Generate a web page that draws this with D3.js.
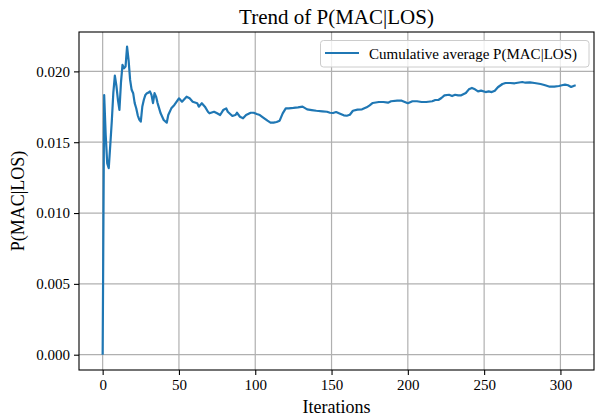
<!DOCTYPE html>
<html>
<head>
<meta charset="utf-8">
<script src="https://cdn.jsdelivr.net/npm/d3@7"></script>
<style>
  html, body { margin: 0; padding: 0; background: #fff; }
  svg { display: block; font-family: "Liberation Serif", "Times New Roman", serif; }
</style>
</head>
<body>
<svg id="chart" width="595" height="419"></svg>
<script>
// ---- data ----
const iterations = [0,1,2,3,4,5,6,7,8,9,10,11,12,13,14,15,16,17,18,19,20,21,22,23,24,25,26,27,28,29,30,31,32,33,34,35,36,38,40,42,43,45,47,50,52,55,57,59,62,63,65,67,69,70,73,75,77,79,81,82,85,87,88,90,92,94,97,99,101,103,105,108,110,112,114,116,118,120,122,125,128,131,134,137,140,144,147,149,151,153,156,158,160,162,164,167,170,173,175,177,181,184,187,189,193,196,198,200,203,206,209,212,216,218,220,222,224,227,229,231,233,235,238,240,242,244,246,248,251,253,255,257,259,262,264,267,270,272,275,277,280,283,287,290,293,296,299,301,303,305,307,309,310];
const pMacLos = [0,0.01833,0.0155,0.0135,0.01317,0.0148,0.0165,0.0185,0.0197,0.0190,0.0180,0.01728,0.0192,0.02046,0.02022,0.02034,0.02175,0.0208,0.0194,0.0187,0.01846,0.01776,0.01740,0.01690,0.01660,0.01646,0.01752,0.0180,0.01834,0.01846,0.0185,0.01858,0.01834,0.01776,0.01846,0.01822,0.01776,0.01704,0.01657,0.01638,0.01692,0.01739,0.01763,0.0181,0.01786,0.01821,0.0181,0.01786,0.01775,0.01751,0.01775,0.01751,0.01715,0.01704,0.01715,0.01704,0.01692,0.01727,0.01739,0.01715,0.01685,0.01692,0.01708,0.0168,0.01669,0.01692,0.01708,0.01708,0.01699,0.01692,0.01676,0.01652,0.01638,0.01638,0.01643,0.01652,0.01704,0.01739,0.01739,0.01742,0.01746,0.01751,0.01732,0.01727,0.01722,0.01718,0.01715,0.01708,0.01706,0.01713,0.01699,0.0169,0.01687,0.01694,0.01722,0.0173,0.01732,0.01746,0.0176,0.01777,0.01784,0.01784,0.01779,0.01789,0.01793,0.01793,0.01784,0.01775,0.01789,0.01789,0.01784,0.01784,0.01789,0.01798,0.01798,0.01812,0.01831,0.01835,0.01826,0.01835,0.01831,0.01831,0.01847,0.01873,0.01883,0.01873,0.01859,0.01864,0.01854,0.01859,0.01854,0.01864,0.01888,0.01911,0.01918,0.01918,0.01916,0.0192,0.01925,0.0192,0.01923,0.01918,0.01911,0.01902,0.01892,0.01892,0.01897,0.01902,0.01906,0.01902,0.0189,0.01899,0.01902];
const xTicks = [0, 50, 100, 150, 200, 250, 300];
const yTicks = [0, 0.005, 0.010, 0.015, 0.020];
const titleText = "Trend of P(MAC|LOS)";
const xLabel = "Iterations";
const yLabel = "P(MAC|LOS)";
const legendLabel = "Cumulative average P(MAC|LOS)";

// ---- layout ----
const svg = d3.select("#chart");
const m = { left: 79, right: 594, top: 32, bottom: 370 };
const x = d3.scaleLinear().domain([-15.5, 322]).range([m.left, m.right]);
const y = d3.scaleLinear().domain([-0.00108, 0.02278]).range([m.bottom, m.top]);
const color = "#1f77b4";
const font = '"Liberation Serif", "Times New Roman", serif';

// grid
const grid = svg.append("g");
grid.selectAll("line.gx").data(xTicks).join("line")
  .attr("x1", d => x(d)).attr("x2", d => x(d))
  .attr("y1", m.top).attr("y2", m.bottom)
  .attr("stroke", "#b0b0b0").attr("stroke-width", 1.2);
grid.selectAll("line.gy").data(yTicks).join("line")
  .attr("x1", m.left).attr("x2", m.right)
  .attr("y1", d => y(d)).attr("y2", d => y(d))
  .attr("stroke", "#b0b0b0").attr("stroke-width", 1.2);

// line
const pts = iterations.map((it, i) => [it, pMacLos[i]]);
svg.append("path")
  .datum(pts)
  .attr("fill", "none")
  .attr("stroke", color)
  .attr("stroke-width", 2.2)
  .attr("stroke-linejoin", "round")
  .attr("stroke-linecap", "butt")
  .attr("d", d3.line().x(d => x(d[0])).y(d => y(d[1])));

// axes
const xAxis = svg.append("g").attr("transform", `translate(0,${m.bottom})`)
  .call(d3.axisBottom(x).tickValues(xTicks).tickSize(5).tickPadding(4).tickFormat(d3.format("d")));
const yAxis = svg.append("g").attr("transform", `translate(${m.left},0)`)
  .call(d3.axisLeft(y).tickValues(yTicks).tickSize(5).tickPadding(4).tickFormat(d3.format(".3f")));
[xAxis, yAxis].forEach(a => {
  a.select(".domain").remove();
  a.selectAll(".tick line").attr("stroke", "#000").attr("stroke-width", 1.1);
  a.selectAll(".tick text").attr("font-family", font).attr("font-size", 15).attr("fill", "#000");
});

// frame
svg.append("rect")
  .attr("x", m.left).attr("y", m.top)
  .attr("width", m.right - m.left).attr("height", m.bottom - m.top)
  .attr("fill", "none").attr("stroke", "#000").attr("stroke-width", 1.1);

// title & labels
svg.append("text").attr("x", (m.left + m.right) / 2).attr("y", 24)
  .attr("text-anchor", "middle").attr("font-family", font).attr("font-size", 21)
  .text(titleText);
svg.append("text").attr("x", (m.left + m.right) / 2).attr("y", 413)
  .attr("text-anchor", "middle").attr("font-family", font).attr("font-size", 18)
  .text(xLabel);
svg.append("text")
  .attr("transform", `translate(24,${(m.top + m.bottom) / 2}) rotate(-90)`)
  .attr("text-anchor", "middle").attr("font-family", font).attr("font-size", 18)
  .text(yLabel);

// legend
const lg = svg.append("g");
lg.append("rect").attr("x", 320.5).attr("y", 40.5).attr("width", 268.5).attr("height", 26.5)
  .attr("rx", 3).attr("fill", "#fff").attr("fill-opacity", 0.8)
  .attr("stroke", "#cccccc").attr("stroke-width", 1);
lg.append("line").attr("x1", 325).attr("x2", 359).attr("y1", 53).attr("y2", 53)
  .attr("stroke", color).attr("stroke-width", 2.2);
lg.append("text").attr("x", 369).attr("y", 58.5)
  .attr("font-family", font).attr("font-size", 15).text(legendLabel);
</script>
</body>
</html>
